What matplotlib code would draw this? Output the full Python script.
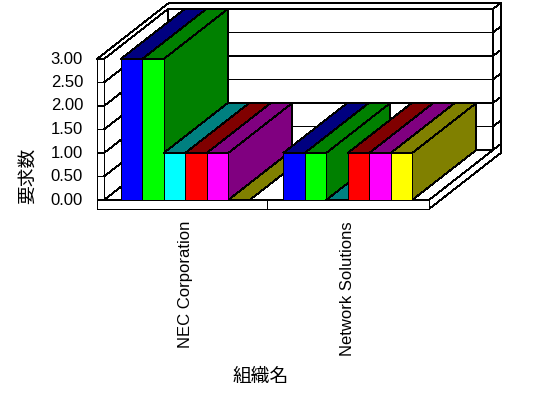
import matplotlib
matplotlib.use('Agg')
import matplotlib.pyplot as plt
from matplotlib.patches import Polygon

plt.rcParams['font.family'] = ['Liberation Sans', 'Noto Sans CJK JP']

# data
categories = ['NEC Corporation', 'Network Solutions']
blue = [3, 1]
lime = [3, 1]
cyan = [1, 0]
red = [1, 1]
magenta = [1, 1]
yellow = [0, 1]
series = [blue, lime, cyan, red, magenta, yellow]
front_colors = ['#0000ff', '#00ff00', '#00ffff', '#ff0000', '#ff00ff', '#ffff00']
shade_colors = ['#000080', '#008000', '#008080', '#800000', '#800080', '#808000']
yticks = [0, 0.5, 1.0, 1.5, 2.0, 2.5, 3.0]
ylabel = '要求数'
xlabel = '組織名'

# layout (pixels of the 548x398 picture)
W, H = 548, 398
px_x = 162.5      # pixels per category
px_v = 47.0       # pixels per value unit
x0_px, y0_px = 104, 200   # inner left wall / floor corner
DX = 64 / px_x    # oblique depth offset
DV = 50 / px_v
D2 = 1.12         # outer depth of the back wall
wall = 7 / px_x   # left wall thickness
floor = 9 / px_v  # floor thickness
vmax = yticks[-1]
xl, xr = -0.5, len(categories) - 0.5
xo = xl - wall
group_w = 0.794
bar_w = group_w / len(series)
LW = 0.6

fig = plt.figure(figsize=(W / 100, H / 100), dpi=100)
ax = fig.add_axes([0, 0, 1, 1])
ax.set_xlim(xl - x0_px / px_x, xl + (W - x0_px) / px_x)
ax.set_ylim(-(H - y0_px) / px_v, y0_px / px_v)
ax.axis('off')


def P(x, v, d):
    return (x + d * DX, v + d * DV)


def face(pts, fc, z):
    ax.add_patch(Polygon([P(*p) for p in pts], closed=True, fc=fc, ec='black',
                         lw=LW, joinstyle='miter', antialiased=False, zorder=z))


def line(pts, z=2):
    xy = [P(*p) for p in pts]
    ax.plot([p[0] for p in xy], [p[1] for p in xy], color='black', lw=LW,
            antialiased=False, zorder=z, solid_capstyle='butt')


# walls
face([(xl, 0, 1), (xr, 0, 1), (xr, vmax, 1), (xl, vmax, 1)], 'white', 1)
face([(xl, 0, 0), (xl, 0, 1), (xl, vmax, 1), (xl, vmax, 0)], 'white', 1)
face([(xl, 0, 0), (xr, 0, 0), (xr, 0, 1), (xl, 0, 1)], 'white', 1)
face([(xo, vmax, 0), (xl, vmax, 0), (xl, vmax, 1), (xr, vmax, 1),
      (xr, vmax, D2), (xo, vmax, D2)], 'white', 1)
face([(xr, 0, 0), (xr, -floor, 0), (xr, -floor, D2), (xr, vmax, D2),
      (xr, vmax, 1), (xr, 0, 1)], 'white', 1)
face([(xo, vmax, 0), (xl, vmax, 0), (xl, 0, 0), (xr, 0, 0), (xr, -floor, 0),
      (xo, -floor, 0)], 'white', 1)

# grid lines wrapping around the walls
for v in yticks:
    line([(xo, v, 0), (xl, v, 0), (xl, v, 1), (xr, v, 1), (xr, v, D2)])
for c in range(1, len(categories)):
    line([(c - 0.5, 0, 0), (c - 0.5, -floor, 0)])

# bars, left to right
z = 3
for c in range(len(categories)):
    for i, vals in enumerate(series):
        h = vals[c]
        a = c - group_w / 2 + i * bar_w
        b = a + bar_w
        face([(b, 0, 0), (b, 0, 1), (b, h, 1), (b, h, 0)], shade_colors[i], z)
        face([(a, h, 0), (b, h, 0), (b, h, 1), (a, h, 1)], shade_colors[i], z + 1)
        if h > 0:
            face([(a, 0, 0), (b, 0, 0), (b, h, 0), (a, h, 0)], front_colors[i], z + 2)
        z += 3

# tick labels
for v in yticks:
    ax.text(xo - 14 / px_x, v, '%.2f' % v, ha='right', va='center', fontsize=12)
for c, name in enumerate(categories):
    ax.text(c, -21 / px_v, name, rotation=90, ha='center', va='top', fontsize=12)

fig.text(28 / W, 1 - 176 / H, ylabel, rotation=90, ha='center', va='center', fontsize=13.5)
fig.text(261 / W, 1 - 377 / H, xlabel, ha='center', va='center', fontsize=13.5)

fig.savefig('out.png', dpi=100)
